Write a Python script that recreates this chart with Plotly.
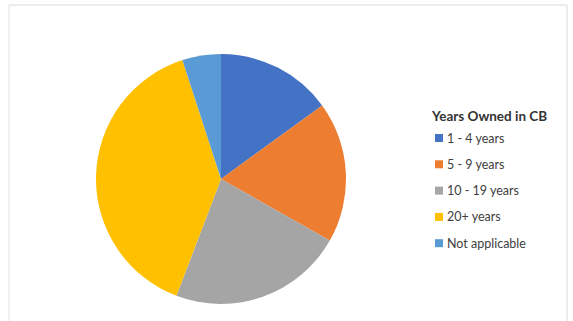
import plotly.graph_objects as go

categories = ["1 - 4 years", "5 - 9 years", "10 - 19 years", "20+ years", "Not applicable"]
values = [15, 18.2, 22.6, 39.2, 5]
colors = ["#4472C4", "#ED7D31", "#A5A5A5", "#FFC000", "#5B9BD5"]
legend_title = "Years Owned in CB"

W, H = 573, 321
fig = go.Figure()
fig.add_trace(go.Pie(
    labels=categories, values=values, sort=False, direction="clockwise", rotation=0,
    marker=dict(colors=colors, line=dict(width=0)),
    textinfo="none", showlegend=False,
    domain=dict(x=[96 / W, 346 / W], y=[(H - 304) / H, (H - 54) / H]),
))

# frame
fig.add_shape(type="line", xref="paper", yref="paper", x0=9 / W, x1=567 / W, y0=1 - 5 / H, y1=1 - 5 / H,
              line=dict(color="#DADADA", width=1))
fig.add_shape(type="line", xref="paper", yref="paper", x0=9 / W, x1=9 / W, y0=0, y1=1 - 5 / H,
              line=dict(color="#E2E2E2", width=1))
fig.add_shape(type="line", xref="paper", yref="paper", x0=567 / W, x1=567 / W, y0=0, y1=1 - 5 / H,
              line=dict(color="#DADADA", width=1))

# legend (drawn from the same arrays)
fig.add_annotation(x=429 / W, y=1 - 116 / H, xref="paper", yref="paper", xanchor="left", yanchor="middle",
                   text="<b>" + legend_title + "</b>", showarrow=False,
                   font=dict(family="Lato, Noto Sans, sans-serif", size=13.5, color="#333333"))
for i, (lab, col) in enumerate(zip(categories, colors)):
    yc = 138 + i * 26.3
    fig.add_shape(type="rect", xref="paper", yref="paper",
                  x0=435 / W, x1=443 / W, y0=1 - (yc + 4) / H, y1=1 - (yc - 4) / H,
                  fillcolor=col, line=dict(width=0))
    fig.add_annotation(x=445 / W, y=1 - yc / H, xref="paper", yref="paper", xanchor="left", yanchor="middle",
                       text=lab, showarrow=False,
                       font=dict(family="Lato, Noto Sans, sans-serif", size=12.5, color="#404040"))

fig.update_layout(width=W, height=H, margin=dict(l=0, r=0, t=0, b=0),
                  paper_bgcolor="white", plot_bgcolor="white")
fig.write_html("out.html")
